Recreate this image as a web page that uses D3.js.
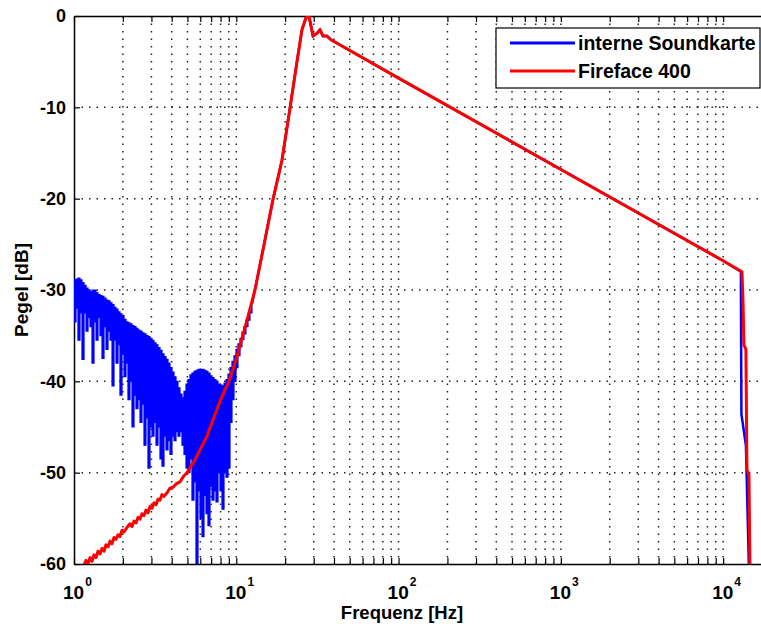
<!DOCTYPE html>
<html>
<head>
<meta charset="utf-8">
<script src="https://cdn.jsdelivr.net/npm/d3@7"></script>
<style>
  body { margin: 0; background: #fff; }
  text { font-family: "Liberation Sans", Arial, sans-serif; font-weight: bold; fill: #000; }
</style>
</head>
<body>
<svg id="chart" width="761" height="624"></svg>
<script>
/* DATA */
const xMajor = [1, 10, 100, 1000, 10000];
const xExponents = ["0", "1", "2", "3", "4"];
const yTicks = [0, -10, -20, -30, -40, -50, -60];
const legendLabels = ["interne Soundkarte", "Fireface 400"];

// interne Soundkarte, noisy low end: each sample swings between a top and a bottom value
const blueFreq = [1.000, 1.029, 1.058, 1.089, 1.120, 1.153, 1.186, 1.220, 1.255, 1.291,
  1.328, 1.367, 1.406, 1.446, 1.488, 1.531, 1.575, 1.620, 1.667, 1.715,
  1.764, 1.815, 1.867, 1.920, 1.976, 2.033, 2.091, 2.151, 2.213, 2.277,
  2.343, 2.410, 2.479, 2.551, 2.624, 2.700, 2.777, 2.857, 2.940, 3.024,
  3.111, 3.201, 3.293, 3.388, 3.485, 3.585, 3.688, 3.795, 3.904, 4.016,
  4.132, 4.251, 4.373, 4.499, 4.628, 4.762, 4.899, 5.040, 5.185, 5.333,
  5.488, 5.646, 5.808, 5.975, 6.147, 6.324, 6.506, 6.693, 6.887, 7.085,
  7.289, 7.498, 7.714, 7.937, 8.165, 8.400, 8.642, 8.891, 9.147, 9.408,
  9.679, 9.958, 10.24, 10.54, 10.84, 11.15, 11.47, 11.80, 12.14, 12.49];
const blueTop = [-28.9, -28.8, -28.7, -28.9, -29.2, -29.5, -29.8, -30.0, -30.2, -30.0,
  -30.0, -30.3, -30.5, -30.6, -30.7, -30.9, -31.1, -31.2, -31.4, -31.6,
  -31.9, -32.1, -32.4, -32.6, -32.8, -33.2, -33.5, -33.6, -33.7, -33.9,
  -34.0, -34.2, -34.4, -34.5, -34.7, -34.8, -35.0, -35.1, -35.3, -35.5,
  -35.8, -36.0, -36.3, -36.6, -37.0, -37.3, -37.6, -38.0, -38.5, -39.0,
  -39.5, -40.0, -40.7, -41.4, -41.8, -41.1, -40.3, -39.8, -39.3, -39.1,
  -38.9, -38.8, -38.7, -38.7, -38.7, -38.8, -38.9, -39.1, -39.4, -39.6,
  -39.8, -40.0, -40.3, -40.4, -40.5, -40.2, -39.8, -39.2, -38.5, -37.8,
  -37.2, -36.5, -35.9, -35.3, -34.6, -34.0, -33.3, -32.6, -31.9, -31.2];
const blueBottom = [-33.5, -32.0, -35.5, -32.5, -37.6, -32.5, -34.5, -33.0, -34.0, -38.0,
  -33.5, -35.5, -33.0, -35.0, -37.5, -34.0, -36.5, -34.5, -35.5, -40.5,
  -35.5, -38.0, -36.0, -41.5, -37.0, -39.5, -38.0, -42.0, -40.0, -45.0,
  -41.5, -43.0, -42.0, -44.5, -42.5, -47.0, -44.0, -49.5, -45.0, -46.0,
  -44.5, -47.0, -45.0, -48.5, -49.3, -46.0, -47.5, -46.5, -48.0, -46.0,
  -46.5, -45.5, -46.0, -45.5, -47.0, -48.0, -49.5, -50.0, -48.5, -53.0,
  -51.0, -60.5, -52.0, -55.0, -57.0, -52.5, -54.5, -55.8, -51.5, -53.0,
  -52.0, -53.2, -50.0, -52.0, -54.0, -50.0, -50.5, -49.5, -44.5, -42.0,
  -40.0, -38.5, -37.2, -36.2, -35.4, -34.8, -34.0, -33.3, -32.5, -31.8];

// interne Soundkarte above ~12 Hz
const blueTailFreq = [12.49, 13.41, 15.03, 16.83, 19.12, 21.42, 23.66, 25.39, 26.88, 28.05, 29.69,
  31.42, 32.79, 34.21, 36.22, 38.32, 100, 1000, 10000, 12870, 12870, 12960, 13810, 14420];
const blueTailLevel = [-31.5, -28.9, -24.5, -20.1, -15.8, -10.1, -5.0, -1.5, -0.2, 0, -2.2,
  -1.9, -1.5, -2.2, -2.2, -2.6, -6.8, -16.8, -26.8, -28.0, -30.5, -43.6, -47.0, -60.5];

// Fireface 400
const redFreq = [1.089, 1.153, 1.186, 1.220, 1.255, 1.291, 1.328, 1.367, 1.406, 1.446,
  1.488, 1.531, 1.575, 1.620, 1.667, 1.715, 1.764, 1.815, 1.867, 1.920,
  1.976, 2.033, 2.121, 2.213, 2.277, 2.343, 2.410, 2.479, 2.551, 2.624,
  2.700, 2.777, 2.857, 2.940, 3.024, 3.111, 3.201, 3.293, 3.388, 3.485,
  3.585, 3.741, 3.904, 4.074, 4.280, 4.499, 4.730, 4.969,
  5.200, 5.488, 5.975, 6.599, 7.186, 7.937, 8.520, 9.018, 10.10, 11.64,
  13.04, 13.41, 15.03, 16.83, 19.12, 21.42, 23.66, 25.39, 26.88, 28.05,
  29.69, 31.42, 32.79, 34.21, 36.22, 38.32, 100, 1000, 10000, 13060,
  13250, 13430, 13810, 14020, 14420, 14630];
const redLevel = [-60.5, -60.1, -59.6, -60.0, -59.3, -59.7, -59.0, -59.3, -58.6, -58.9,
  -58.3, -58.6, -57.9, -58.1, -57.5, -57.8, -57.1, -57.3, -56.8, -57.0,
  -56.3, -56.5, -56.0, -55.6, -55.9, -55.3, -55.5, -54.9, -55.1, -54.5,
  -54.7, -54.1, -54.4, -53.7, -53.9, -53.3, -53.5, -52.9, -53.0, -52.4,
  -52.6, -52.2, -51.7, -51.6, -51.2, -51.0, -50.4, -50.0,
  -49.4, -48.8, -47.5, -46.0, -44.2, -42.2, -40.9, -40.0, -37.3, -33.3,
  -30.0, -28.9, -24.5, -20.1, -15.8, -10.1, -5.0, -1.5, -0.2, 0,
  -2.2, -1.9, -1.5, -2.2, -2.2, -2.6, -6.8, -16.8, -26.8, -28.0,
  -31.1, -36.0, -36.5, -49.7, -50.2, -60.5];

/* LAYOUT */
const plotLeft = 74, plotTop = 16, plotBottom = 564, plotRight = 772;

const svg = d3.select("#chart");

const xScale = d3.scaleLog()
  .domain([1, 20000])
  .range([plotLeft, plotRight]);

const yScale = d3.scaleLinear()
  .domain([-60, 0])
  .range([plotBottom, plotTop]);

// every 1..9 x 10^k position for the log grid
const xGrid = [];
xMajor.forEach(d => {
  for (let m = 1; m <= 9; m++) if (m * d <= 20000) xGrid.push(m * d);
});

svg.append("defs").append("clipPath")
  .attr("id", "plotClip")
  .append("rect")
  .attr("x", plotLeft).attr("y", plotTop)
  .attr("width", plotRight - plotLeft).attr("height", plotBottom - plotTop);

/* GRID */
const grid = svg.append("g").attr("class", "grid")
  .attr("stroke", "#222")
  .attr("stroke-width", 1.5)
  .attr("stroke-dasharray", "1.5,6");

grid.selectAll(".vgrid")
  .data(xGrid.filter(d => d > 1))
  .join("line")
  .attr("class", "vgrid")
  .attr("x1", d => xScale(d)).attr("x2", d => xScale(d))
  .attr("y1", plotTop).attr("y2", plotBottom);

grid.selectAll(".hgrid")
  .data(yTicks.filter(d => d !== 0 && d !== -60))
  .join("line")
  .attr("class", "hgrid")
  .attr("x1", plotLeft).attr("x2", plotRight)
  .attr("y1", d => yScale(d)).attr("y2", d => yScale(d));

/* AXES */
const xBottom = d3.axisBottom(xScale).tickValues(xGrid).tickSizeInner(-6).tickSizeOuter(0).tickFormat("");
const xTop = d3.axisTop(xScale).tickValues(xGrid).tickSizeInner(-6).tickSizeOuter(0).tickFormat("");
const yLeft = d3.axisLeft(yScale).tickValues(yTicks).tickSizeInner(-6).tickSizeOuter(0).tickFormat("");

const styleAxis = g => {
  g.select(".domain").attr("stroke", "#000").attr("stroke-width", 1.5);
  g.selectAll(".tick line").attr("stroke", "#000").attr("stroke-width", 1.2);
};

svg.append("g").attr("transform", `translate(0,${plotBottom})`).call(xBottom).call(styleAxis);
svg.append("g").attr("transform", `translate(0,${plotTop})`).call(xTop).call(styleAxis);
svg.append("g").attr("transform", `translate(${plotLeft},0)`).call(yLeft).call(styleAxis);

/* LINES */
const line = d3.line()
  .x(d => xScale(d[0]))
  .y(d => yScale(d[1]));

// the fast swings below 12 Hz fill a band: one column per sample
const band = d3.area()
  .curve(d3.curveStepAfter)
  .x(d => xScale(d))
  .y0((d, i) => yScale(blueBottom[i]))
  .y1((d, i) => yScale(blueTop[i]));

const blueTail = blueTailFreq.map((f, i) => [f, blueTailLevel[i]]);
const redPoints = redFreq.map((f, i) => [f, redLevel[i]]);

const plot = svg.append("g").attr("clip-path", "url(#plotClip)");

plot.append("path")
  .datum(blueFreq)
  .attr("d", band)
  .attr("fill", "#0000ff")
  .attr("stroke", "#0000ff")
  .attr("stroke-width", 1.2);

plot.append("path")
  .datum(blueTail)
  .attr("d", line)
  .attr("fill", "none")
  .attr("stroke", "#0000ff")
  .attr("stroke-width", 2.5);

plot.append("path")
  .datum(redPoints)
  .attr("d", line)
  .attr("fill", "none")
  .attr("stroke", "#ff0000")
  .attr("stroke-width", 3)
  .attr("stroke-linejoin", "round");

/* TICK LABELS */
svg.selectAll(".ylabel")
  .data(yTicks)
  .join("text")
  .attr("class", "ylabel")
  .attr("x", plotLeft - 8)
  .attr("y", d => yScale(d))
  .attr("dy", "0.36em")
  .attr("text-anchor", "end")
  .style("font-size", "18px")
  .text(d => d);

const xl = svg.selectAll(".xlabel")
  .data(xMajor)
  .join("text")
  .attr("class", "xlabel")
  .attr("x", d => xScale(d) - 11)
  .attr("y", 599)
  .style("font-size", "19px");
xl.append("tspan").text("10");
xl.append("tspan")
  .attr("dx", 1)
  .attr("dy", -13)
  .style("font-size", "12px")
  .text((d, i) => xExponents[i]);

/* AXIS TITLES */
svg.append("text")
  .attr("x", 402)
  .attr("y", 619)
  .attr("text-anchor", "middle")
  .style("font-size", "18.5px")
  .text("Frequenz [Hz]");

svg.append("text")
  .attr("transform", `translate(28,${(plotTop + plotBottom) / 2}) rotate(-90)`)
  .attr("text-anchor", "middle")
  .style("font-size", "19px")
  .text("Pegel [dB]");

/* LEGEND */
const legend = svg.append("g").attr("transform", "translate(496,28)");
legend.append("rect")
  .attr("width", 264).attr("height", 60)
  .attr("fill", "#fff")
  .attr("stroke", "#000")
  .attr("stroke-width", 1.2);

legend.selectAll(".entry")
  .data(legendLabels)
  .join("g")
  .attr("class", "entry")
  .attr("transform", (d, i) => `translate(0,${15 + i * 28})`)
  .each(function(d, i) {
    const g = d3.select(this);
    g.append("line")
      .attr("x1", 14).attr("x2", 79)
      .attr("stroke", i === 0 ? "#0000ff" : "#ff0000")
      .attr("stroke-width", 3);
    g.append("text")
      .attr("x", 82)
      .attr("dy", "0.36em")
      .style("font-size", "19.5px")
      .text(d);
  });
</script>
</body>
</html>
